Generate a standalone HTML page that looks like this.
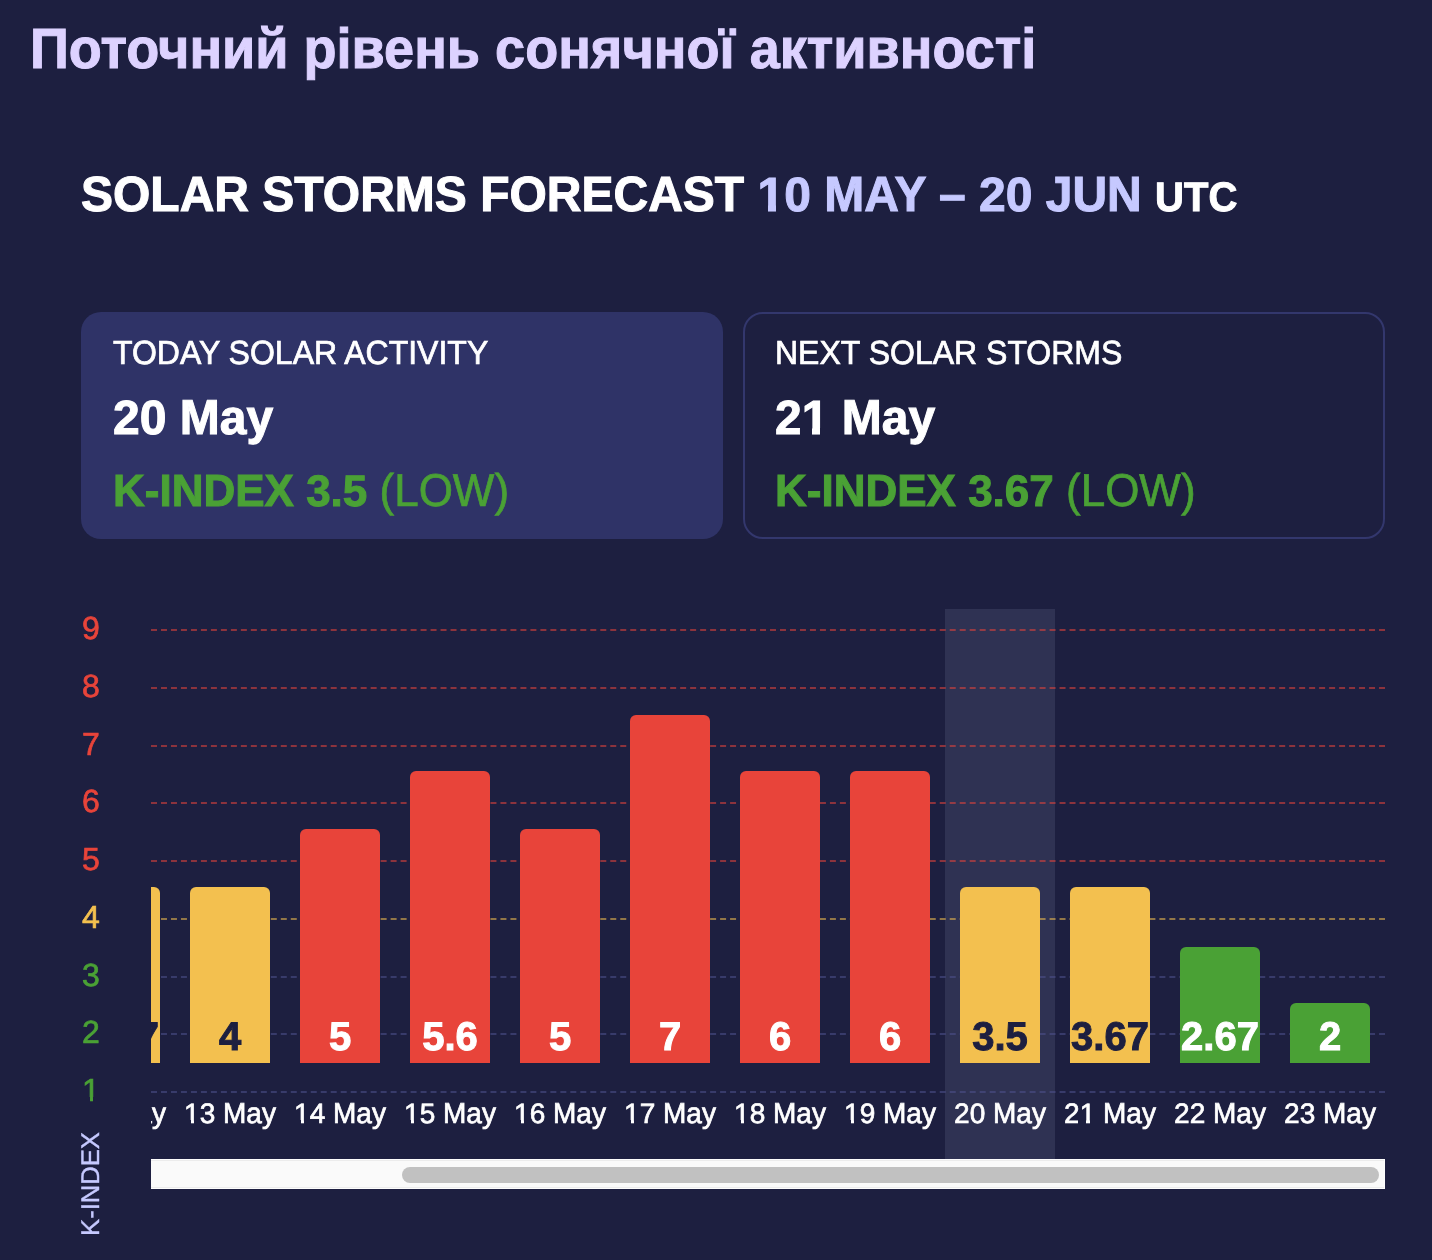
<!DOCTYPE html>
<html lang="uk">
<head>
<meta charset="utf-8">
<title>Поточний рівень сонячної активності</title>
<style>
*{box-sizing:border-box;margin:0;padding:0}
html,body{width:1432px;height:1260px;overflow:hidden;background:#1d1f40}
body{position:relative;font-family:"Liberation Sans",Arial,Helvetica,sans-serif;color:#fff;text-rendering:geometricPrecision}
.t{position:absolute;white-space:nowrap;line-height:1;font-weight:400;-webkit-text-stroke:0.7px currentColor}
.b,.t b{font-weight:700;-webkit-text-stroke-width:1.0px}
.ib{display:inline-block;white-space:pre;transform-origin:0 84.65%}
.m{position:absolute;background:#1d1f40}
.title{color:#ddd2ff}
.rng{color:#c6c9ff}
.card{position:absolute;top:312px;width:642px;height:227px;border-radius:20px}
.c1{left:81px;background:#2f3367}
.c2{left:743px;border:2px solid #33376d}
.r{color:#e8443a}.y{color:#f3c04f}.g{color:#4aa135}
.kidx{color:#c6c9ff}
.plot{position:absolute;left:151px;top:609px;width:1234px;height:580px;overflow:hidden}
.today{position:absolute;left:794px;top:0;width:110px;height:551px;background:#2f3253}
.bar{position:absolute;width:80px;bottom:126px;border-radius:6px 6px 0 0}
.br{background:#e8443a}.by{background:#f3c04f}.bg{background:#4aa135}
.dk{color:#1d1f40}
.track{position:absolute;left:0;top:550px;width:1234px;height:30px;border-right:1px solid #fdfdfd;background:linear-gradient(#fdfdfd 0,#fdfdfd 1px,#ececec 1px,#ececec 2px,#fafafa 2px,#fafafa 28px,#ececec 28px,#ececec 29px,#fdfdfd 29px,#fdfdfd 30px)}
.thumb{position:absolute;left:251px;top:8px;width:977px;height:16px;border-radius:8px;background:#c1c1c1}
</style>
</head>
<body>
<h1 class="t b title" style="font-size:56px;top:21px;left:29.7px;transform:scale(0.9655,1.01);transform-origin:0 84.65%;">Поточний рівень сонячної активності</h1>
<h2 class="t b" style="font-size:48px;top:172px;left:81px;"><span class="ib" style="transform:scaleY(1.027)">SOLAR STORMS FORECAST </span><span class="rng">10<span class="ib" style="transform:scaleY(1.027)"> MAY –</span> 20<span class="ib" style="transform:scaleY(1.027)"> JUN</span></span> <span style="font-size:40px"><span class="ib" style="transform:scaleY(1.027)">UTC</span></span></h2>
<div class="card c1"></div>
<div class="card c2"></div>
<div class="t" style="font-size:32px;top:337px;left:113px;"><span class="ib" style="transform:scaleY(1.043)">TODAY SOLAR ACTIVITY</span></div>
<div class="t b" style="font-size:48px;top:395px;left:113px;">20<span class="ib" style="transform:scaleY(1.0202)"> May</span></div>
<div class="t g" style="font-size:44px;top:470px;left:113px;"><b><span class="ib" style="transform:scaleY(1.027)">K-INDEX</span> 3.5</b><span class="ib" style="transform:scaleY(1.043)"> (LOW)</span></div>
<div class="t" style="font-size:32px;top:337px;left:775px;"><span class="ib" style="transform:scaleY(1.043)">NEXT SOLAR STORMS</span></div>
<div class="t b" style="font-size:48px;top:395px;left:775px;">21<span class="ib" style="transform:scaleY(1.0202)"> May</span></div>
<div class="t g" style="font-size:44px;top:470px;left:775px;"><b><span class="ib" style="transform:scaleY(1.027)">K-INDEX</span> 3.67</b><span class="ib" style="transform:scaleY(1.043)"> (LOW)</span></div>
<div class="t r" style="font-size:32px;top:612px;left:71px;width:40px;text-align:center;">9</div>
<div class="t r" style="font-size:32px;top:670px;left:71px;width:40px;text-align:center;">8</div>
<div class="t r" style="font-size:32px;top:728px;left:71px;width:40px;text-align:center;">7</div>
<div class="t r" style="font-size:32px;top:785px;left:71px;width:40px;text-align:center;">6</div>
<div class="t r" style="font-size:32px;top:843px;left:71px;width:40px;text-align:center;">5</div>
<div class="t y" style="font-size:32px;top:901px;left:71px;width:40px;text-align:center;">4</div>
<div class="t g" style="font-size:32px;top:959px;left:71px;width:40px;text-align:center;">3</div>
<div class="t g" style="font-size:32px;top:1016px;left:71px;width:40px;text-align:center;">2</div>
<div class="t g" style="font-size:32px;top:1074px;left:71px;width:40px;text-align:center;">1</div>
<div class="t kidx" style="font-size:25.6px;left:92.4px;top:1184px;transform:translate(-50%,-50%) rotate(-90deg);-webkit-text-stroke-width:0.4px">K-INDEX</div>
<i class="m" style="left:756px;top:205px;width:12px;height:8px"></i><i class="m" style="left:776px;top:205px;width:9px;height:8px"></i><i class="m" style="left:800px;top:428px;width:12px;height:8px"></i><i class="m" style="left:820px;top:428px;width:9px;height:8px"></i><i class="m" style="left:81px;top:1097px;width:9px;height:5px"></i><i class="m" style="left:93px;top:1097px;width:7px;height:5px"></i>
<div class="plot">
<div class="today"></div>
<svg style="position:absolute;left:0;top:0" width="1234" height="580" viewBox="0 0 1234 580"><g fill="none" stroke-width="2" stroke-dasharray="6 3.984"><line x1="0" y1="21" x2="1234" y2="21" stroke="#e8443a" stroke-opacity="0.55"/><line x1="0" y1="79" x2="1234" y2="79" stroke="#e8443a" stroke-opacity="0.55"/><line x1="0" y1="137" x2="1234" y2="137" stroke="#e8443a" stroke-opacity="0.55"/><line x1="0" y1="194" x2="1234" y2="194" stroke="#e8443a" stroke-opacity="0.55"/><line x1="0" y1="252" x2="1234" y2="252" stroke="#e8443a" stroke-opacity="0.55"/><line x1="0" y1="310" x2="1234" y2="310" stroke="#f3c04f" stroke-opacity="0.55"/><line x1="0" y1="368" x2="1234" y2="368" stroke="#4f528e" stroke-opacity="0.55"/><line x1="0" y1="425" x2="1234" y2="425" stroke="#4f528e" stroke-opacity="0.55"/><line x1="0" y1="483" x2="1234" y2="483" stroke="#4f528e" stroke-opacity="0.55"/></g></svg>
<div class="bar by" style="left:-71px;height:176px"></div>
<div class="bar by" style="left:39px;height:176px"></div>
<div class="bar br" style="left:149px;height:234px"></div>
<div class="bar br" style="left:259px;height:292px"></div>
<div class="bar br" style="left:369px;height:234px"></div>
<div class="bar br" style="left:479px;height:348px"></div>
<div class="bar br" style="left:589px;height:292px"></div>
<div class="bar br" style="left:699px;height:292px"></div>
<div class="bar by" style="left:809px;height:176px"></div>
<div class="bar by" style="left:919px;height:176px"></div>
<div class="bar bg" style="left:1029px;height:116px"></div>
<div class="bar bg" style="left:1139px;height:60px"></div>
<div class="t b dk" style="font-size:40px;top:408px;left:-91px;width:120px;text-align:center;">3.67</div>
<div class="t b dk" style="font-size:40px;top:408px;left:19px;width:120px;text-align:center;">4</div>
<div class="t b" style="font-size:40px;top:408px;left:129px;width:120px;text-align:center;">5</div>
<div class="t b" style="font-size:40px;top:408px;left:239px;width:120px;text-align:center;">5.6</div>
<div class="t b" style="font-size:40px;top:408px;left:349px;width:120px;text-align:center;">5</div>
<div class="t b" style="font-size:40px;top:408px;left:459px;width:120px;text-align:center;">7</div>
<div class="t b" style="font-size:40px;top:408px;left:569px;width:120px;text-align:center;">6</div>
<div class="t b" style="font-size:40px;top:408px;left:679px;width:120px;text-align:center;">6</div>
<div class="t b dk" style="font-size:40px;top:408px;left:789px;width:120px;text-align:center;">3.5</div>
<div class="t b dk" style="font-size:40px;top:408px;left:899px;width:120px;text-align:center;">3.67</div>
<div class="t b" style="font-size:40px;top:408px;left:1009px;width:120px;text-align:center;">2.67</div>
<div class="t b" style="font-size:40px;top:408px;left:1119px;width:120px;text-align:center;">2</div>
<div class="t" style="font-size:28px;top:491px;left:-91px;width:120px;text-align:center;">12<span class="ib" style="transform:scaleY(1.0322)"> May</span></div>
<div class="t" style="font-size:28px;top:491px;left:19px;width:120px;text-align:center;">13<span class="ib" style="transform:scaleY(1.0322)"> May</span></div>
<div class="t" style="font-size:28px;top:491px;left:129px;width:120px;text-align:center;">14<span class="ib" style="transform:scaleY(1.0322)"> May</span></div>
<div class="t" style="font-size:28px;top:491px;left:239px;width:120px;text-align:center;">15<span class="ib" style="transform:scaleY(1.0322)"> May</span></div>
<div class="t" style="font-size:28px;top:491px;left:349px;width:120px;text-align:center;">16<span class="ib" style="transform:scaleY(1.0322)"> May</span></div>
<div class="t" style="font-size:28px;top:491px;left:459px;width:120px;text-align:center;">17<span class="ib" style="transform:scaleY(1.0322)"> May</span></div>
<div class="t" style="font-size:28px;top:491px;left:569px;width:120px;text-align:center;">18<span class="ib" style="transform:scaleY(1.0322)"> May</span></div>
<div class="t" style="font-size:28px;top:491px;left:679px;width:120px;text-align:center;">19<span class="ib" style="transform:scaleY(1.0322)"> May</span></div>
<div class="t" style="font-size:28px;top:491px;left:789px;width:120px;text-align:center;">20<span class="ib" style="transform:scaleY(1.0322)"> May</span></div>
<div class="t" style="font-size:28px;top:491px;left:899px;width:120px;text-align:center;">21<span class="ib" style="transform:scaleY(1.0322)"> May</span></div>
<div class="t" style="font-size:28px;top:491px;left:1009px;width:120px;text-align:center;">22<span class="ib" style="transform:scaleY(1.0322)"> May</span></div>
<div class="t" style="font-size:28px;top:491px;left:1119px;width:120px;text-align:center;">23<span class="ib" style="transform:scaleY(1.0322)"> May</span></div>
<i class="m" style="left:32px;top:511px;width:8px;height:5px"></i><i class="m" style="left:43px;top:511px;width:6px;height:5px"></i><i class="m" style="left:142px;top:511px;width:8px;height:5px"></i><i class="m" style="left:153px;top:511px;width:6px;height:5px"></i><i class="m" style="left:252px;top:511px;width:8px;height:5px"></i><i class="m" style="left:263px;top:511px;width:6px;height:5px"></i><i class="m" style="left:362px;top:511px;width:8px;height:5px"></i><i class="m" style="left:373px;top:511px;width:6px;height:5px"></i><i class="m" style="left:472px;top:511px;width:8px;height:5px"></i><i class="m" style="left:483px;top:511px;width:6px;height:5px"></i><i class="m" style="left:582px;top:511px;width:8px;height:5px"></i><i class="m" style="left:593px;top:511px;width:6px;height:5px"></i><i class="m" style="left:692px;top:511px;width:8px;height:5px"></i><i class="m" style="left:703px;top:511px;width:6px;height:5px"></i><i class="m" style="left:927px;top:511px;width:8px;height:5px"></i><i class="m" style="left:939px;top:511px;width:6px;height:5px"></i>
<div class="track"><div class="thumb"></div></div>
</div>
</body>
</html>
